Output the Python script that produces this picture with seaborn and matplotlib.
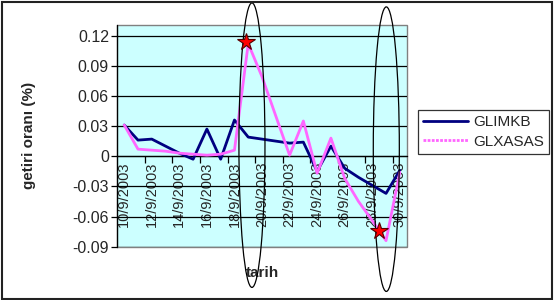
import numpy as np
import pandas as pd
import matplotlib
matplotlib.use("Agg")
import matplotlib.pyplot as plt
import matplotlib.transforms as mtransforms
from matplotlib.patches import Ellipse, Rectangle
import seaborn as sns

# ---------------- data ----------------
dates = ['10/9/2003', '11/9/2003', '12/9/2003', '13/9/2003', '14/9/2003',
         '15/9/2003', '16/9/2003', '17/9/2003', '18/9/2003', '19/9/2003',
         '20/9/2003', '21/9/2003', '22/9/2003', '23/9/2003', '24/9/2003',
         '25/9/2003', '26/9/2003', '27/9/2003', '28/9/2003', '29/9/2003',
         '30/9/2003']
glimkb = [0.031, 0.016, 0.017, 0.010, 0.003, -0.003, 0.027, -0.003, 0.036,
          0.019, 0.017, 0.015, 0.013, 0.014, -0.015, 0.010, -0.012, -0.021,
          -0.029, -0.037, -0.014]
glxasas = [0.031, 0.007, 0.006, 0.005, 0.003, 0.002, 0.001, 0.002, 0.006,
           0.112, 0.079, 0.040, 0.001, 0.035, -0.017, 0.018, -0.022, -0.045,
           -0.064, -0.084, -0.016]
series_names = ['GLIMKB', 'GLXASAS']
y_ticks = [-0.09, -0.06, -0.03, 0.0, 0.03, 0.06, 0.09, 0.12]
y_tick_labels = ['-0.09', '-0.06', '-0.03', '0', '0.03', '0.06', '0.09', '0.12']
x_label = 'tarih'
y_label = 'getiri oranı (%)'

# ---------------- styling ----------------
sns.set_style('white')
plt.rcParams['font.family'] = ['Liberation Sans', 'DejaVu Sans']

colors = {'GLIMKB': '#000080', 'GLXASAS': '#FF66FF'}

idx = np.arange(len(dates))
df = pd.DataFrame({
    'idx': np.concatenate([idx, idx]),
    'value': glimkb + glxasas,
    'series': [series_names[0]] * len(dates) + [series_names[1]] * len(dates),
})

fig = plt.figure(figsize=(5.55, 3.0), dpi=100)
ax = fig.add_axes([0.2114, 0.1777, 0.5214, 0.739])

ax.set_facecolor('#CCFFFF')
ax.patch.set_edgecolor('#808080')
ax.patch.set_linewidth(1.0)

sns.lineplot(data=df, x='idx', y='value', hue='series', palette=colors,
             linewidth=2, sort=False, ax=ax, zorder=3)

ax.set_xlim(-0.5, len(dates) - 0.5)
ax.set_ylim(-0.09, 0.1305)

# y axis
ax.set_yticks(y_ticks)
ax.set_yticklabels(y_tick_labels, fontsize=11.5)
ax.yaxis.grid(True, color='black', linewidth=0.9)
ax.set_axisbelow(True)
ax.tick_params(axis='y', direction='out', length=4, width=0.9, color='black',
               left=True, pad=2)

# x axis at y = 0
for s in ['top', 'right']:
    ax.spines[s].set_visible(False)
ax.spines['left'].set_color('black')
ax.spines['left'].set_linewidth(0.9)
ax.spines['bottom'].set_position(('data', 0))
ax.spines['bottom'].set_color('black')
ax.spines['bottom'].set_linewidth(0.9)

ax.set_xticks(idx[::2])
ax.set_xticklabels(dates[::2], rotation=90, fontsize=10.5)
ax.set_xticks(np.arange(1.5, len(dates) - 0.5, 2), minor=True)
ax.tick_params(axis='x', which='major', length=0, pad=4, bottom=True)
ax.tick_params(axis='x', which='minor', direction='out', length=5, width=0.9,
               color='black', bottom=True)

ax.set_xlabel(x_label, fontsize=11, fontweight='bold')
ax.set_ylabel(y_label, fontsize=11, fontweight='bold')
ax.xaxis.set_label_coords(0.5, -0.085)
ax.yaxis.set_label_coords(-0.28, 0.5)

# stars at extreme points of GLXASAS
imax = int(np.argmax(glxasas))
imin = int(np.argmin(glxasas))
tr_max = mtransforms.offset_copy(ax.transData, fig=fig, x=-2, y=2, units='dots')
tr_min = mtransforms.offset_copy(ax.transData, fig=fig, x=-7, y=10, units='dots')
ax.plot([imax], [glxasas[imax]], marker='*', markersize=13, color='#FF0000',
        markeredgecolor='#550000', markeredgewidth=0.8, transform=tr_max,
        zorder=6, clip_on=False)
ax.plot([imin], [glxasas[imin]], marker='*', markersize=13, color='#FF0000',
        markeredgecolor='#550000', markeredgewidth=0.8, transform=tr_min,
        zorder=6, clip_on=False)

# ellipses highlighting the extremes
ax.add_patch(Ellipse((imax + 0.27, 0.011), width=1.89, height=0.283,
                     fill=False, edgecolor='black', linewidth=0.9,
                     clip_on=False, zorder=5))
ax.add_patch(Ellipse((imin + 0.02, 0.007), width=1.89, height=0.283,
                     fill=False, edgecolor='black', linewidth=0.9,
                     clip_on=False, zorder=5))

# legend
handles, labels = ax.get_legend_handles_labels()
leg = ax.legend(handles, labels, loc='upper left',
                bbox_to_anchor=(418 / 555, 1 - 110 / 300),
                bbox_transform=fig.transFigure, frameon=True, fancybox=False,
                edgecolor='black', fontsize=11, handlelength=2.9,
                handletextpad=0.35, labelspacing=0.35, borderpad=0.35,
                borderaxespad=0)
leg.get_frame().set_linewidth(0.9)
leg.get_frame().set_facecolor('white')
for line in leg.get_lines():
    line.set_linewidth(2)
leg.get_lines()[1].set_linestyle((0, (1, 0.5)))

# chart border
fig.patches.append(Rectangle((0.003, 0.005), 0.992, 0.99,
                             transform=fig.transFigure, fill=False,
                             edgecolor='#222222', linewidth=1.5))

fig.savefig('out.png', dpi=100)
